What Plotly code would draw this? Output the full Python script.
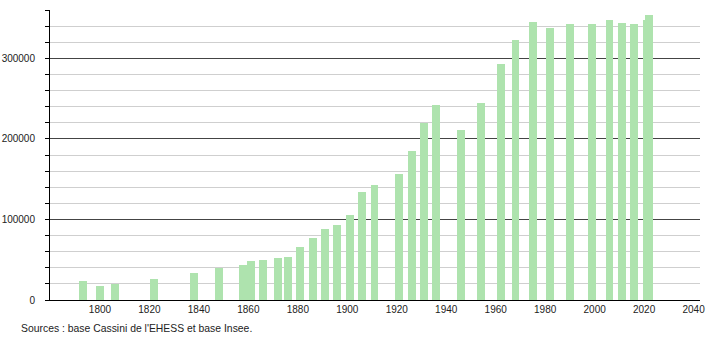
import plotly.graph_objects as go

years = [1793, 1800, 1806, 1822, 1838, 1848, 1858, 1861, 1866, 1872, 1876, 1881,
         1886, 1891, 1896, 1901, 1906, 1911, 1921, 1926, 1931, 1936, 1946, 1954,
         1962, 1968, 1975, 1982, 1990, 1999, 2006, 2011, 2016, 2021, 2022]
population = [24000, 17500, 19500, 26000, 33600, 39600, 44000, 48000, 50200, 52300,
              53400, 66300, 77500, 88300, 93700, 105100, 134200, 142900, 155800,
              184400, 219500, 241900, 211200, 244400, 293000, 322400, 344500,
              337100, 342400, 342700, 347100, 343300, 343000, 348100, 353700]

y_ticks = [0, 100000, 200000, 300000]
y_tick_labels = ["0", "100000", "200000", "300000"]
x_ticks = list(range(1800, 2041, 20))
source_text = "Sources : base Cassini de l'EHESS et base Insee."

fig = go.Figure()
fig.add_trace(go.Bar(
    x=years, y=population, width=3.2,
    marker=dict(color="rgb(174,227,174)", line=dict(width=0)),
    hoverinfo="x+y",
))

fig.update_layout(
    width=710, height=340,
    margin=dict(l=50, r=10, t=10, b=40, autoexpand=False),
    paper_bgcolor="white", plot_bgcolor="white",
    font=dict(family="Liberation Sans, Arial, sans-serif", size=10, color="#222"),
    showlegend=False,
    bargap=0,
)
fig.update_xaxes(
    range=[1779.8, 2042.6], automargin=False,
    tickvals=x_ticks, ticktext=[str(v) for v in x_ticks],
    showgrid=False, zeroline=False,
    showline=True, linecolor="black", linewidth=1,
    ticks="", ticklabelstandoff=0,
)
fig.update_yaxes(
    range=[0, 360000], automargin=False,
    tickvals=y_ticks, ticktext=y_tick_labels,
    showgrid=True, gridcolor="#444", gridwidth=1,
    zeroline=False,
    showline=True, linecolor="black", linewidth=1,
    ticks="outside", ticklen=4, tickcolor="black",
    ticklabelstandoff=8,
    minor=dict(dtick=20000, tick0=0, showgrid=True, gridcolor="#cfcfcf",
               gridwidth=1, ticks="outside", ticklen=4, tickcolor="black"),
)
fig.add_annotation(
    text=source_text, xref="paper", yref="paper",
    x=-0.047, y=-0.072, xanchor="left", yanchor="top", showarrow=False,
    font=dict(size=10.4, color="#222"),
)
fig.write_html("out.html")
